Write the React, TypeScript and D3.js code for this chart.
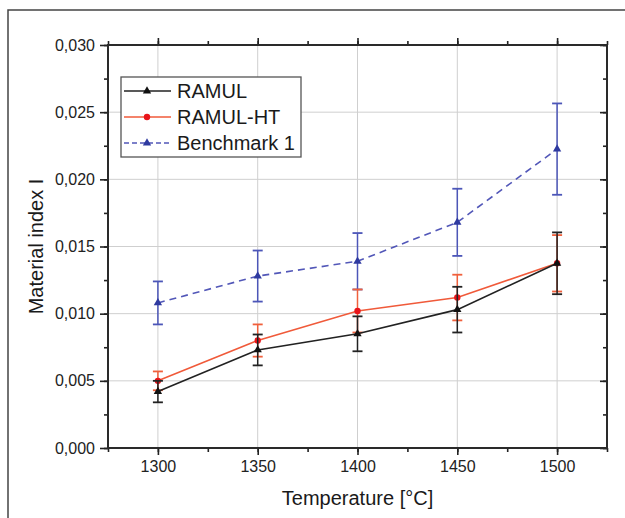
import { useEffect, useRef } from "react";
import * as d3 from "d3";

const temperatures = [1300, 1350, 1400, 1450, 1500];
const ramul = [0.0042, 0.0073, 0.0085, 0.0103, 0.01375];
const ramulErr = [0.0008, 0.00115, 0.0013, 0.0017, 0.0023];
const ramulHT = [0.005, 0.008, 0.0102, 0.0112, 0.01375];
const ramulHTErr = [0.0007, 0.0012, 0.0016, 0.0017, 0.0021];
const bench = [0.0108, 0.0128, 0.0139, 0.0168, 0.02225];
const benchErr = [0.0016, 0.0019, 0.0021, 0.0025, 0.0034];
const yTicks = [0, 0.005, 0.01, 0.015, 0.02, 0.025, 0.03];
const xTicks = [1300, 1350, 1400, 1450, 1500];

interface Series {
  name: string;
  values: number[];
  errors: number[];
  line: string;
  marker: string;
  err: string;
  dash: string | null;
  shape: "triangle" | "circle";
}

const series: Series[] = [
  { name: "Benchmark 1", values: bench, errors: benchErr, line: "#5257b8", marker: "#2f3aa0", err: "#4c56b8", dash: "7,5", shape: "triangle" },
  { name: "RAMUL-HT", values: ramulHT, errors: ramulHTErr, line: "#f05a3a", marker: "#e8141a", err: "#f0603c", dash: null, shape: "circle" },
  { name: "RAMUL", values: ramul, errors: ramulErr, line: "#222222", marker: "#111111", err: "#222222", dash: null, shape: "triangle" },
];

const legendOrder = ["RAMUL", "RAMUL-HT", "Benchmark 1"];

function App() {
  const svgRef = useRef<SVGSVGElement>(null);

  useEffect(() => {
    if (!svgRef.current) return;
    const svg = d3.select(svgRef.current);
    svg.selectAll("*").remove();

    const left = 108, right = 607, top = 45, bottom = 448;
    const font = "'Liberation Sans', Arial, sans-serif";

    const x = d3.scaleLinear().domain([1275, 1525]).range([left, right]);
    const y = d3.scaleLinear().domain([0, 0.03]).range([bottom, top]);

    // outer frame
    svg.append("path").attr("d", `M8,518 L8,10 L625,10`).attr("fill", "none").attr("stroke", "#444").attr("stroke-width", 1.5);

    // grid
    const grid = svg.append("g").attr("stroke", "#cfcfcf").attr("stroke-width", 1);
    xTicks.forEach((t) => grid.append("line").attr("x1", x(t)).attr("x2", x(t)).attr("y1", top).attr("y2", bottom));
    yTicks.slice(1, -1).forEach((t) => grid.append("line").attr("x1", left).attr("x2", right).attr("y1", y(t)).attr("y2", y(t)));

    // axes
    const fmt = (d: d3.NumberValue) => (+d).toFixed(3).replace(".", ",");
    const xMinor = d3.range(1275, 1526, 25);
    const yMinor = d3.range(0, 0.0301, 0.0025);

    const styleAxis = (g: d3.Selection<SVGGElement, unknown, null, undefined>) => {
      g.select(".domain").remove();
      g.selectAll(".tick line").attr("stroke", "#222").attr("stroke-width", 1.6);
      g.selectAll(".tick text").attr("fill", "#222").style("font-family", font).style("font-size", "16px");
    };

    const bx = svg.append("g").attr("transform", `translate(0,${bottom})`);
    bx.call(d3.axisBottom(x).tickValues(xMinor).tickSize(4).tickFormat(() => "")).call(styleAxis);
    bx.append("g").call(d3.axisBottom(x).tickValues(xTicks).tickSize(7).tickPadding(6).tickFormat(d3.format("d"))).call(styleAxis);

    const tx = svg.append("g").attr("transform", `translate(0,${top})`);
    tx.call(d3.axisTop(x).tickValues(xMinor).tickSize(4).tickFormat(() => "")).call(styleAxis);
    tx.append("g").call(d3.axisTop(x).tickValues(xTicks).tickSize(7).tickFormat(() => "")).call(styleAxis);

    const ly = svg.append("g").attr("transform", `translate(${left},0)`);
    ly.call(d3.axisLeft(y).tickValues(yMinor).tickSize(4).tickFormat(() => "")).call(styleAxis);
    ly.append("g").call(d3.axisLeft(y).tickValues(yTicks).tickSize(8).tickPadding(5).tickFormat(fmt)).call(styleAxis);

    const ry = svg.append("g").attr("transform", `translate(${right},0)`);
    ry.call(d3.axisLeft(y).tickValues(yMinor).tickSize(4).tickFormat(() => "")).call(styleAxis);
    ry.append("g").call(d3.axisLeft(y).tickValues(yTicks).tickSize(7).tickFormat(() => "")).call(styleAxis);

    svg.append("rect").attr("x", left).attr("y", top).attr("width", right - left).attr("height", bottom - top)
      .attr("fill", "none").attr("stroke", "#2a2a2a").attr("stroke-width", 2);

    // series
    const tri = d3.symbol().type(d3.symbolTriangle).size(30);
    const circ = d3.symbol().type(d3.symbolCircle).size(32);

    series.forEach((s) => {
      const g = svg.append("g");
      s.values.forEach((v, i) => {
        const cx = x(temperatures[i]);
        const hi = y(v + s.errors[i]);
        const lo = y(v - s.errors[i]);
        g.append("line").attr("x1", cx).attr("x2", cx).attr("y1", hi).attr("y2", lo).attr("stroke", s.err).attr("stroke-width", 1.5);
        [hi, lo].forEach((yy) =>
          g.append("line").attr("x1", cx - 5).attr("x2", cx + 5).attr("y1", yy).attr("y2", yy).attr("stroke", s.err).attr("stroke-width", 1.8)
        );
      });
      const line = d3.line<number>().x((_, i) => x(temperatures[i])).y((d) => y(d));
      g.append("path").datum(s.values).attr("d", line).attr("fill", "none").attr("stroke", s.line)
        .attr("stroke-width", 1.6).attr("stroke-dasharray", s.dash);
      g.selectAll("path.mk").data(s.values).enter().append("path").attr("class", "mk")
        .attr("d", s.shape === "circle" ? circ() : tri())
        .attr("transform", (d, i) => `translate(${x(temperatures[i])},${y(d)})`)
        .attr("fill", s.marker);
    });

    // legend
    const lg = svg.append("g").attr("transform", "translate(121,77)");
    lg.append("rect").attr("width", 180).attr("height", 80).attr("fill", "white").attr("stroke", "#555").attr("stroke-width", 1.3);
    legendOrder.forEach((name, i) => {
      const s = series.find((d) => d.name === name)!;
      const row = lg.append("g").attr("transform", `translate(0,${14 + i * 26})`);
      row.append("line").attr("x1", 3).attr("x2", 50).attr("stroke", s.line).attr("stroke-width", 1.6).attr("stroke-dasharray", s.dash ? "5,3" : null);
      row.append("path").attr("d", s.shape === "circle" ? circ() : tri()).attr("transform", "translate(26,0)").attr("fill", s.marker);
      row.append("text").attr("x", 56).attr("y", 7).attr("fill", "#1a1a1a").style("font-family", font).style("font-size", "20px").text(name);
    });

    // axis titles
    svg.append("text").attr("x", (left + right) / 2).attr("y", 505).attr("text-anchor", "middle")
      .attr("fill", "#1a1a1a").style("font-family", font).style("font-size", "20px").text("Temperature [°C]");
    svg.append("text").attr("transform", `translate(43,${(top + bottom) / 2}) rotate(-90)`).attr("text-anchor", "middle")
      .attr("fill", "#1a1a1a").style("font-family", font).style("font-size", "20px").text("Material index I");
  }, []);

  return (
    <svg ref={svgRef} width={625} height={518} style={{ position: "absolute", left: 0, top: 0, background: "white" }}></svg>
  );
}

export default App;
